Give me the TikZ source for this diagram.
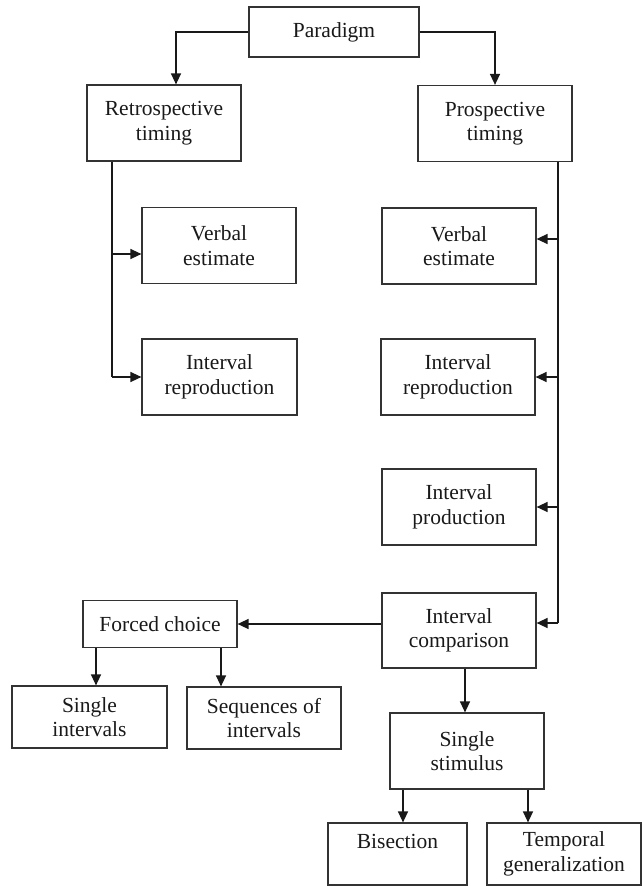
\documentclass[tikz,border=0pt]{standalone}
\usepackage{fontspec}
\setmainfont{Liberation Serif}
\usetikzlibrary{arrows.meta}
\begin{document}
\begin{tikzpicture}[x=1pt,y=-1pt,
  box/.style={draw=black!80,line width=1.2pt,rectangle,inner sep=0pt,align=center,
    font=\fontsize{21.5}{24.5}\selectfont,text=black!90},
  bx/.style n args={2}{box,minimum width=#1pt,minimum height=#2pt},
  arr/.style={draw=black!90,line width=1.4pt,-{Triangle[length=11pt,width=10pt]}},
  ln/.style={draw=black!90,line width=1.4pt}]
\useasboundingbox (0,0) rectangle (642,886);
% nodes
\node[bx={170}{50}] (par) at (334,32) {Paradigm};
\node[bx={154}{76}] (retro) at (164,123) {Retrospective\\timing};
\node[bx={154}{76}] (prosp) at (495,123.5) {Prospective\\timing};
\node[bx={154}{76}] (ve1) at (219,245.5) {Verbal\\estimate};
\node[bx={155}{76}] (ir1) at (219.5,377) {Interval\\reproduction};
\node[bx={154}{76}] (ve2) at (459,246) {Verbal\\estimate};
\node[bx={154}{76}] (ir2) at (458,377) {Interval\\reproduction};
\node[bx={154}{76}] (ip) at (459,507) {Interval\\production};
\node[bx={154}{75}] (ic) at (459,630.5) {Interval\\comparison};
\node[bx={154}{47}] (fc) at (160,624) {Forced choice};
\node[bx={155}{62}] (si) at (89.5,717) {Single\\intervals};
\node[bx={154}{62}] (seq) at (264,718) {Sequences of\\intervals};
\node[bx={154}{76}] (ss) at (467,751) {Single\\stimulus};
\node[bx={139}{62}] (bis) at (397.5,854) {Bisection\\\mbox{}};
\node[bx={154}{62}] (tg) at (564,854) {Temporal\\generalization};
% helper coordinates
\coordinate (rl) at (112,0);
\coordinate (pl) at (558,0);
% connectors from Paradigm
\draw[arr] (par.west) -| ([xshift=12pt]retro.north);
\draw[arr] (par.east) -| (prosp.north);
% retrospective branch
\draw[ln] (retro.south -| rl) -- (ir1.west -| rl);
\draw[arr] ([yshift=-8.5pt]ve1.west -| rl) -- ([yshift=-8.5pt]ve1.west);
\draw[arr] (ir1.west -| rl) -- (ir1.west);
% prospective branch
\draw[ln] (prosp.south -| pl) -- ([yshift=7.5pt]ic.east -| pl);
\draw[arr] ([yshift=7pt]ve2.east -| pl) -- ([yshift=7pt]ve2.east);
\draw[arr] (ir2.east -| pl) -- (ir2.east);
\draw[arr] (ip.east -| pl) -- (ip.east);
\draw[arr] ([yshift=7.5pt]ic.east -| pl) -- ([yshift=7.5pt]ic.east);
% comparison branch
\draw[arr] (ic.west |- fc.east) -- (fc.east);
\draw[arr] ([xshift=-64pt]fc.south) -- ([xshift=-64pt]fc.south |- si.north);
\draw[arr] ([xshift=61pt]fc.south) -- ([xshift=61pt]fc.south |- seq.north);
\draw[arr] ([xshift=6pt]ic.south) -- ([xshift=6pt]ic.south |- ss.north);
\draw[arr] ([xshift=-64pt]ss.south) -- ([xshift=-64pt]ss.south |- bis.north);
\draw[arr] ([xshift=61pt]ss.south) -- ([xshift=61pt]ss.south |- tg.north);
\end{tikzpicture}
\end{document}
